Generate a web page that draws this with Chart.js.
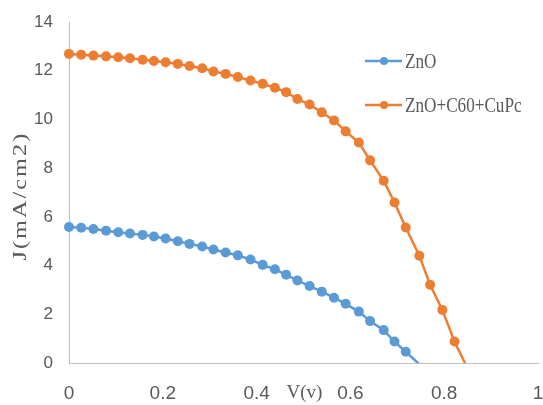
<!DOCTYPE html>
<html><head><meta charset="utf-8">
<script src="https://cdn.jsdelivr.net/npm/chart.js@4.4.1/dist/chart.umd.min.js"></script>
<style>html,body{margin:0;padding:0;background:#fff;overflow:hidden}#wrap{position:relative;width:543px;height:405px}</style>
</head><body><div id="wrap"><canvas id="c" width="543" height="405"></canvas></div>
<script>
// Voltage (V) sample points
const voltage = [0, 0.026, 0.052, 0.079, 0.105, 0.130, 0.157, 0.181, 0.206, 0.232, 0.257, 0.284, 0.308, 0.334, 0.360, 0.387, 0.413, 0.439, 0.463, 0.487, 0.513, 0.539, 0.565, 0.590, 0.618, 0.642, 0.671, 0.694, 0.718, 0.747, 0.770, 0.796, 0.822, 0.848];
// Current density J (mA/cm2)
const currentZnO = [5.58, 5.55, 5.50, 5.43, 5.37, 5.32, 5.26, 5.19, 5.11, 5.00, 4.89, 4.78, 4.66, 4.54, 4.42, 4.25, 4.03, 3.85, 3.62, 3.39, 3.16, 2.93, 2.68, 2.43, 2.11, 1.72, 1.35, 0.88, 0.46, -0.05];
const currentHybrid = [12.69, 12.66, 12.62, 12.59, 12.55, 12.51, 12.45, 12.40, 12.35, 12.28, 12.19, 12.10, 11.97, 11.87, 11.74, 11.60, 11.46, 11.30, 11.12, 10.84, 10.61, 10.29, 9.96, 9.51, 9.05, 8.32, 7.48, 6.59, 5.56, 4.40, 3.21, 2.18, 0.88, -0.15];
const seriesNames = ['ZnO', 'ZnO+C60+CuPc'];
const xTicks = [0, 0.2, 0.4, 0.6, 0.8, 1];
const yTicks = [0, 2, 4, 6, 8, 10, 12, 14];
const xTitle = 'V(v)';
const yTitle = 'J(mA/cm2)';

const colors = ['#5B9BD5', '#ED7D31'];
const toPoints = (ys) => ys.map((y, i) => ({ x: voltage[i], y: y }));
const series = [currentZnO, currentHybrid];

const textColor = '#595959';
const decor = {
  id: 'decor',
  afterDraw(chart) {
    const ctx = chart.ctx;
    const a = chart.chartArea;
    const xs = chart.scales.x;
    ctx.save();
    ctx.fillStyle = textColor;
    ctx.textAlign = 'center';
    ctx.textBaseline = 'middle';
    // y title (rotated)
    ctx.save();
    ctx.translate(21, (a.top + a.bottom) / 2 + 5);
    ctx.rotate(-Math.PI / 2);
    ctx.scale(1.35, 1);
    ctx.font = '18px "Liberation Serif"';
    try { ctx.letterSpacing = '1.5px'; } catch (e) {}
    ctx.fillText(yTitle, 1, 0);
    ctx.restore();
    // x title placed in tick row
    ctx.font = '19px "Liberation Serif"';
    ctx.fillText(xTitle, xs.getPixelForValue(0.5) + 1, 393);
    // legend
    chart.data.datasets.forEach((ds, i) => {
      const y = 61 + i * 44;
      ctx.strokeStyle = ds.borderColor;
      ctx.lineWidth = 2.5;
      ctx.beginPath();
      ctx.moveTo(365, y);
      ctx.lineTo(402, y);
      ctx.stroke();
      ctx.fillStyle = ds.backgroundColor;
      ctx.beginPath();
      ctx.arc(384, y, 4, 0, Math.PI * 2);
      ctx.fill();
      ctx.save();
      ctx.fillStyle = textColor;
      ctx.textAlign = 'left';
      ctx.translate(405, y + 1);
      ctx.scale(0.78, 1);
      ctx.font = '22px "Liberation Serif"';
      ctx.fillText(ds.label, 0, 0);
      ctx.restore();
    });
    ctx.restore();
  }
};

new Chart(document.getElementById('c'), {
  type: 'line',
  data: {
    datasets: series.map((ys, i) => ({
      label: seriesNames[i],
      data: toPoints(ys),
      borderColor: colors[i],
      backgroundColor: colors[i],
      borderWidth: 2.5,
      pointRadius: (c) => (c.raw && c.raw.y < 0 ? 0 : 5),
      pointBorderWidth: 0,
      pointBackgroundColor: colors[i],
      tension: 0,
      clip: { left: 10, top: 10, right: 10, bottom: 0 }
    }))
  },
  options: {
    responsive: false,
    animation: false,
    devicePixelRatio: 1,
    layout: { padding: { top: 22, right: 1, bottom: 0, left: 0 } },
    plugins: { legend: { display: false }, tooltip: { enabled: false } },
    scales: {
      x: {
        type: 'linear',
        min: 0, max: 1,
        grid: { display: false, drawTicks: false },
        border: { display: true, color: '#BFBFBF', width: 1 },
        afterBuildTicks: (s) => { s.ticks = xTicks.map(v => ({ value: v })); },
        afterFit: (s) => { s.paddingLeft = 0; s.paddingRight = 0; s.height = 42; },
        ticks: {
          padding: 19,
          maxRotation: 0,
          autoSkip: false,
          color: textColor,
          font: { family: '"Liberation Sans Narrow", "Liberation Sans"', size: 19 },
          callback: (v) => String(v)
        }
      },
      y: {
        type: 'linear',
        min: 0, max: 14,
        grid: { display: false, drawTicks: false },
        border: { display: true, color: '#BFBFBF', width: 1 },
        afterBuildTicks: (s) => { s.ticks = yTicks.map(v => ({ value: v })); },
        afterFit: (s) => { s.width = 69; s.paddingTop = 0; s.paddingBottom = 0; },
        ticks: {
          padding: 16,
          autoSkip: false,
          color: textColor,
          font: { family: '"Liberation Sans Narrow", "Liberation Sans"', size: 17 },
          callback: (v) => String(v)
        }
      }
    }
  },
  plugins: [decor]
});
</script>
</body></html>
